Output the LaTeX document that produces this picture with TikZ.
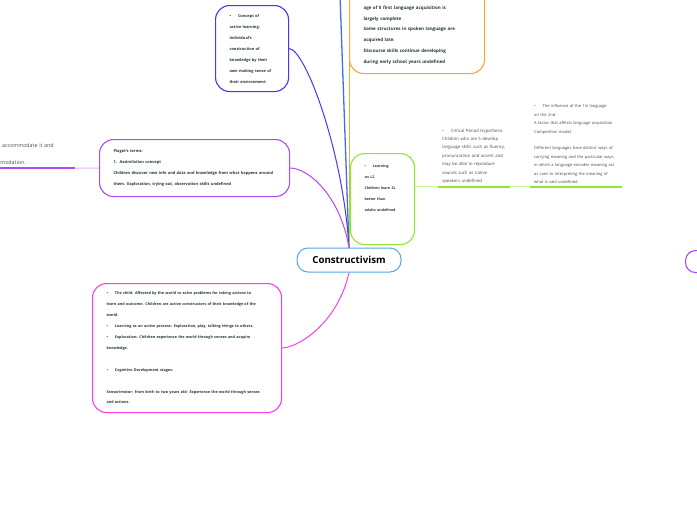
\documentclass[tikz,border=0pt]{standalone}
\usepackage{fontspec}
\setmainfont{Open Sans}
\usepackage{tikz}
\usetikzlibrary{backgrounds}
\definecolor{conceptblue}{HTML}{5230F5}
\definecolor{skyline}{HTML}{3D6DF2}
\definecolor{langorange}{HTML}{F6A832}
\definecolor{lgreen}{HTML}{8FE82E}
\definecolor{piagetpurple}{HTML}{B04AF5}
\definecolor{childpink}{HTML}{FF3DE8}
\definecolor{sidepurple}{HTML}{A94AF0}
\definecolor{rootblue}{HTML}{5AA7E0}
\definecolor{inktext}{HTML}{23392F}
\definecolor{notegray}{HTML}{4A4A4A}

\begin{document}
\begin{tikzpicture}[x=1pt,y=-1pt,
   bubble/.style={draw,rounded corners=14pt,line width=1.1pt,fill=white,align=left,
                  anchor=north west,inner xsep=14pt,inner ysep=0pt,text=inktext},
   note/.style={align=left,anchor=south west,inner xsep=4pt,inner ysep=3pt,text=notegray},
   link/.style={line width=1pt}]
  \useasboundingbox (0,0) rectangle (697,520);

  % root
  \node[draw=rootblue,line width=1pt,rounded corners=11pt,fill=white,minimum width=104pt,
        minimum height=24pt,font=\bfseries\fontsize{9.7}{11}\selectfont] (root) at (349,260)
       {Constructivism};

  % topics
  \node[bubble,draw=conceptblue,text width=45pt,minimum height=86pt,
        font=\bfseries\fontsize{3.9}{11}\selectfont] (concept) at (215,5)
       {\textbullet\hspace{7pt}Concept of\\active learning:\\Individual's\\construction of\\
        knowledge by their\\own making sense of\\their environment.};
  \node[bubble,draw=langorange,text width=107pt,minimum height=95pt,
        font=\bfseries\fontsize{4.5}{10.8}\selectfont] (langbox) at (349,-22)
       {\mbox{}\\\mbox{}\\age of 5 first language acquisition is\\largely complete\\
        Some structures in spoken language are\\acquired late.\\
        Discourse skills continue developing\\during early school years undefined};
  \node[bubble,draw=piagetpurple,text width=162pt,minimum height=57pt,
        font=\bfseries\fontsize{3.95}{11}\selectfont] (piaget) at (99,139)
       {Piaget's terms:\\1.\ \ Assimilation concept\\
        Children discover new info and data and knowledge from what happens around\\
        them. Exploration, trying out, observation skills undefined};
  \node[bubble,draw=lgreen,text width=36pt,minimum height=91pt,
        font=\bfseries\fontsize{3.6}{11}\selectfont] (lbox) at (350,153)
       {\textbullet\hspace{7pt}Learning\\an L2\\Children learn SL\\better than\\adults undefined\\
        \mbox{}\\\mbox{}};
  \node[bubble,draw=childpink,text width=161pt,minimum height=129pt,
        font=\bfseries\fontsize{3.75}{10.9}\selectfont] (childbox) at (92,283)
       {\textbullet\hspace{7pt}The child: Affected by the world to solve problems for taking actions to\\
        learn and outcome. Children are active constructors of their knowledge of the\\
        world.\\
        \textbullet\hspace{7pt}Learning as an active process: Exploration, play, talking things to others.\\
        \textbullet\hspace{7pt}Exploration: Children experience the world through senses and acquire\\
        knowledge.\\\mbox{}\\
        \textbullet\hspace{7pt}Cognitive Development stages:\\\mbox{}\\
        Sensorimotor: from birth to two years old: Experience the world through senses\\
        and actions.};
  \node[draw=sidepurple,line width=1.1pt,rounded corners=10pt,fill=white,anchor=north west,
        minimum width=40pt,minimum height=22pt] (sidebox) at (685,250) {};

  % subtopics
  \node[note,text width=64pt,font=\fontsize{4.3}{8.4}\selectfont] (crit) at (438,186.7)
       {\textbullet\hspace{7pt}Critical Period Hypothesis\\Children who are 5 develop\\
        language skills such as fluency,\\pronunciation and accent and\\
        may be able to reproduce\\sounds such as native\\speakers undefined};
  \node[note,text width=84pt,font=\fontsize{4.05}{8.4}\selectfont] (infl) at (530,186.7)
       {\textbullet\hspace{7pt}The influence of the 1st language\\on the 2nd\\
        A factor that affects language acquisition\\Competition model.\\\mbox{}\\
        Different languages have distinct ways of\\carrying meaning and the particular ways\\
        in which a language encodes meaning act\\as cues to interpreting the meaning of\\
        what is said undefined};
  \node[align=left,anchor=south west,inner xsep=0pt,inner ysep=3.5pt,text width=91pt,
        text=notegray,font=\fontsize{5.3}{17}\selectfont] (accom) at (-16,168)
       {\hspace*{18pt}accommodate it and\\accommodation.};
  \coordinate (topend) at (340,-5);

  % connectors
  \begin{scope}[on background layer]
    \draw[link,skyline,line width=1.3pt] (root.north) -- (topend);
    \draw[link,langorange] (root.north) -- (langbox.west);
    \draw[link,lgreen] (root.north) -- (lbox.west);
    \draw[link,conceptblue] (root.north) .. controls (343,150) and (305,49) .. (concept.east);
    \draw[link,piagetpurple] (root.north) .. controls (340,195) and (308,168) .. (piaget.east);
    \draw[link,childpink] (root.south) .. controls (338,322) and (300,347) .. (childbox.east);
  \end{scope}
  \draw[lgreen!45,line width=1pt] (crit.south west -| lbox.east) -- (crit.south west);
  \draw[lgreen,line width=1.8pt] (crit.south west) -- (crit.south east);
  \draw[lgreen!45,line width=1pt] (crit.south east) -- (infl.south west);
  \draw[lgreen,line width=1.8pt] (infl.south west) -- (infl.south east);
  \draw[piagetpurple!40,line width=1pt] (piaget.west) -- (accom.south east);
  \draw[piagetpurple,line width=1.6pt] (accom.south east) -- (accom.south west);
\end{tikzpicture}
\end{document}
